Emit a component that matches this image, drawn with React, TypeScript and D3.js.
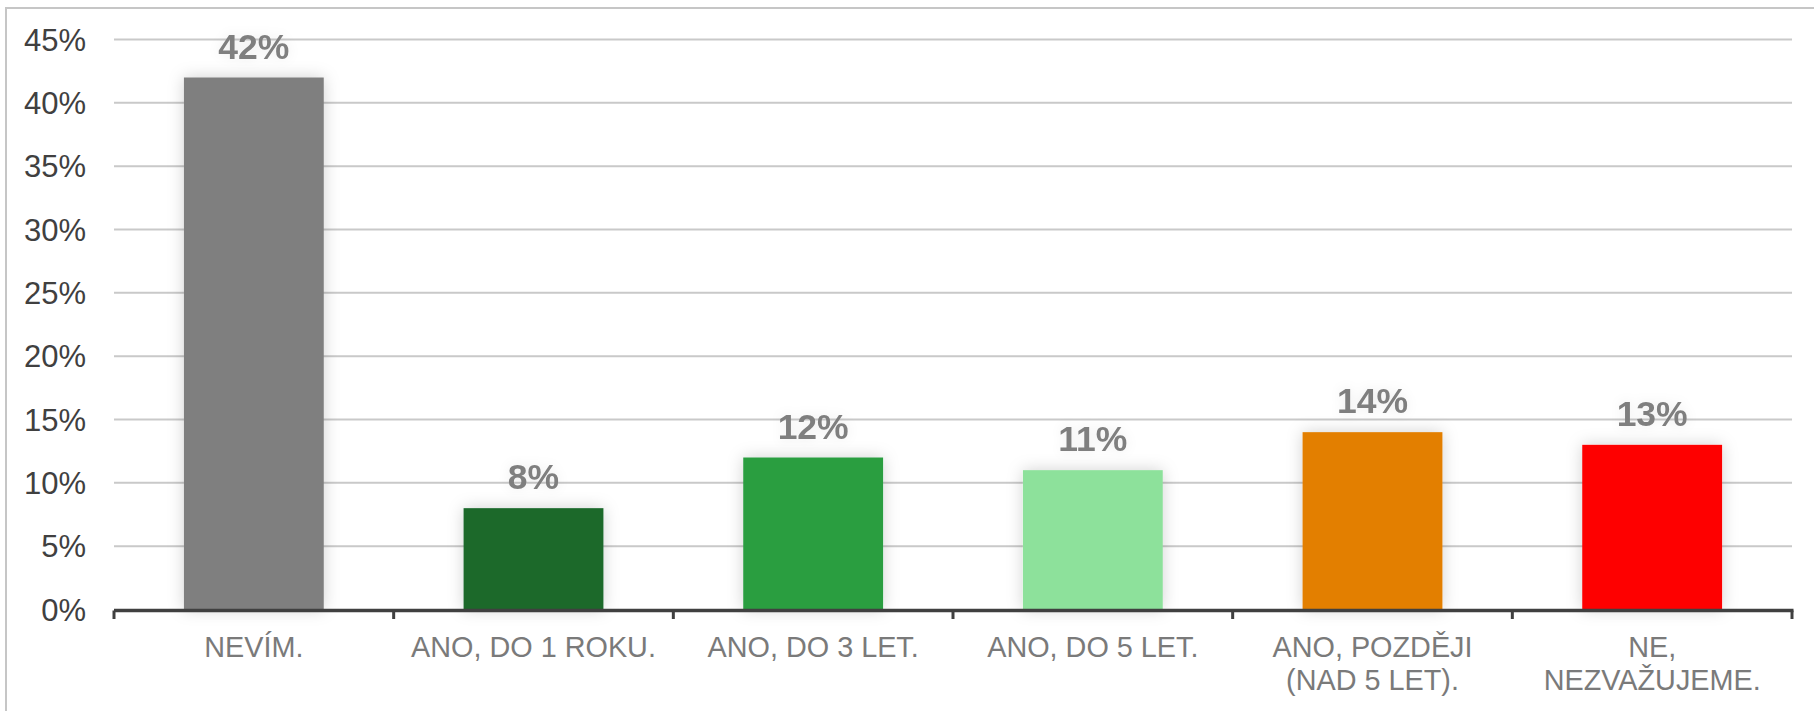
import React, { useEffect, useRef } from "react";
import * as d3 from "d3";

// Data
const categories: string[][] = [
    ["NEVÍM."],
    ["ANO, DO 1 ROKU."],
    ["ANO, DO 3 LET."],
    ["ANO, DO 5 LET."],
    ["ANO, POZDĚJI", "(NAD 5 LET)."],
    ["NE,", "NEZVAŽUJEME."],
];
const values = [0.42, 0.08, 0.12, 0.11, 0.14, 0.13];
const barColors = ["#7f7f7f", "#1b692b", "#299e40", "#8de19b", "#e37f00", "#fe0000"];
const yTicks = [0, 0.05, 0.1, 0.15, 0.2, 0.25, 0.3, 0.35, 0.4, 0.45];

const W = 1814;
const H = 711;
const FONT = "'Liberation Sans', Arial, sans-serif";

const App: React.FC = () => {
    const svgRef = useRef<SVGSVGElement>(null);

    useEffect(() => {
        if (!svgRef.current) return;
        const svg = d3.select(svgRef.current);
        svg.selectAll("*").remove();

        const x0 = 114, x1 = 1792;
        const yBase = 609.5, yTop = 39.5;

        // Defs: soft shadow around bars
        const defs = svg.append("defs");
        const f = defs.append("filter").attr("id", "bar-shadow")
            .attr("x", "-30%").attr("y", "-30%").attr("width", "160%").attr("height", "160%");
        f.append("feGaussianBlur").attr("in", "SourceAlpha").attr("stdDeviation", 8).attr("result", "b");
        f.append("feFlood").attr("flood-color", "#000").attr("flood-opacity", 0.18);
        f.append("feComposite").attr("in2", "b").attr("operator", "in").attr("result", "s");
        const m = f.append("feMerge");
        m.append("feMergeNode").attr("in", "s");
        m.append("feMergeNode").attr("in", "SourceGraphic");

        const ft = defs.append("filter").attr("id", "txt-shadow")
            .attr("x", "-30%").attr("y", "-50%").attr("width", "160%").attr("height", "200%");
        ft.append("feGaussianBlur").attr("in", "SourceAlpha").attr("stdDeviation", 6).attr("result", "b");
        ft.append("feFlood").attr("flood-color", "#000").attr("flood-opacity", 0.08);
        ft.append("feComposite").attr("in2", "b").attr("operator", "in").attr("result", "s");
        const mt = ft.append("feMerge");
        mt.append("feMergeNode").attr("in", "s");
        mt.append("feMergeNode").attr("in", "SourceGraphic");

        // Background + frame
        svg.append("rect").attr("width", W).attr("height", H).attr("fill", "#fff");
        svg.append("rect")
            .attr("x", 6).attr("y", 8).attr("width", W + 20).attr("height", H + 20)
            .attr("fill", "none").attr("stroke", "#c6c6c6").attr("stroke-width", 2);

        const xScale = d3.scaleBand<number>()
            .domain(d3.range(categories.length))
            .range([x0, x1])
            .paddingInner(0.5)
            .paddingOuter(0.25);
        const step = xScale.step();

        const yScale = d3.scaleLinear().domain([0, 0.45]).range([yBase, yTop]);

        // Grid
        svg.append("g").selectAll("line")
            .data(yTicks.filter((t) => t > 0))
            .enter().append("line")
            .attr("x1", x0).attr("x2", x1)
            .attr("y1", (d) => yScale(d)).attr("y2", (d) => yScale(d))
            .attr("stroke", "#c9c9c9").attr("stroke-width", 2);

        // Y labels
        svg.append("g").selectAll("text")
            .data(yTicks)
            .enter().append("text")
            .attr("x", 86).attr("y", (d) => yScale(d))
            .attr("dy", "0.36em")
            .attr("text-anchor", "end")
            .attr("fill", "#404040")
            .attr("font-size", "31px")
            .attr("font-family", FONT)
            .text((d) => `${Math.round(d * 100)}%`);

        // Bars
        svg.append("g").selectAll("rect")
            .data(values)
            .enter().append("rect")
            .attr("x", (_d, i) => xScale(i)!)
            .attr("y", (d) => yScale(d))
            .attr("width", xScale.bandwidth())
            .attr("height", (d) => yBase - yScale(d))
            .attr("fill", (_d, i) => barColors[i])
            .attr("filter", "url(#bar-shadow)");

        // Value labels
        svg.append("g").selectAll("text")
            .data(values)
            .enter().append("text")
            .attr("x", (_d, i) => xScale(i)! + xScale.bandwidth() / 2)
            .attr("y", (d) => yScale(d) - 19)
            .attr("text-anchor", "middle")
            .attr("fill", "#7f7f7f")
            .attr("font-size", "35.5px")
            .attr("font-weight", "700")
            .attr("font-family", FONT)
            .attr("filter", "url(#txt-shadow)")
            .text((d) => `${Math.round(d * 100)}%`);

        // X axis
        const axisY = 610.5;
        svg.append("line")
            .attr("x1", x0).attr("x2", x1 + 1.5)
            .attr("y1", axisY).attr("y2", axisY)
            .attr("stroke", "#404040").attr("stroke-width", 3.5);
        const bounds = d3.range(categories.length + 1).map((i) => x0 + i * step);
        svg.append("g").selectAll("line")
            .data(bounds)
            .enter().append("line")
            .attr("x1", (d) => d).attr("x2", (d) => d)
            .attr("y1", axisY).attr("y2", 619)
            .attr("stroke", "#404040").attr("stroke-width", 3);

        // Category labels
        const cat = svg.append("g").selectAll("text")
            .data(categories)
            .enter().append("text")
            .attr("x", (_d, i) => xScale(i)! + xScale.bandwidth() / 2)
            .attr("y", 656.5)
            .attr("text-anchor", "middle")
            .attr("fill", "#7a7a7a")
            .attr("font-size", "28.8px")
            .attr("font-family", FONT);
        cat.selectAll("tspan")
            .data((d) => d)
            .enter().append("tspan")
            .attr("x", function () {
                return (this as SVGTSpanElement).parentElement!.getAttribute("x");
            })
            .attr("dy", (_d, j) => (j === 0 ? 0 : 33.5))
            .text((d) => d);
    }, []);

    return (
        <svg
            ref={svgRef}
            width={W}
            height={H}
            style={{ position: "absolute", left: 0, top: 0, display: "block" }}
        />
    );
};

export default App;
